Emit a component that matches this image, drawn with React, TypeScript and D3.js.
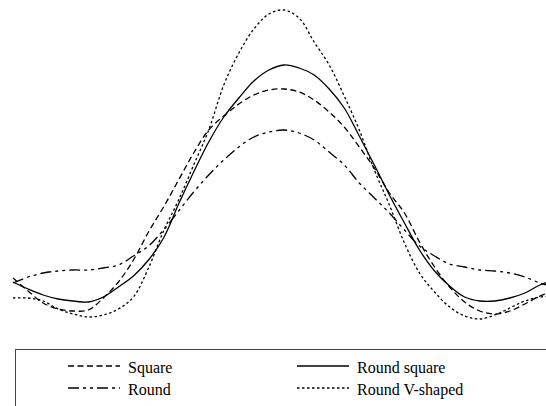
import React from "react";
import * as d3 from "d3";

// azimuth angle (deg) of each sample
const angles = d3.range(-180, 181, 10);

// relative response
const square = [
  52, 39, 27, 21, 19, 20, 32, 48, 70, 98, 123, 150, 177, 200, 214, 226, 235, 240, 241,
  238, 230, 218, 203, 183, 162, 137, 117, 88, 63, 43, 28, 19, 16, 19, 26, 34, 39,
];
const roundSquare = [
  48, 41, 35, 31, 29, 28, 33, 43, 54, 70, 92, 126, 158, 188, 213, 232, 249, 260, 265,
  262, 255, 241, 222, 194, 165, 135, 107, 80, 59, 44, 33, 29, 29, 32, 37, 45, 50,
];
const round = [
  47, 53, 57, 59, 60, 60, 62, 65, 74, 84, 100, 119, 138, 155, 170, 183, 193, 198, 200,
  197, 190, 178, 165, 147, 132, 117, 100, 84, 74, 66, 63, 60, 59, 57, 53, 47, 43,
];
const roundV = [
  32, 32, 29, 21, 16, 13, 15, 21, 33, 62, 99, 130, 165, 200, 245, 277, 301, 316, 320,
  312, 288, 265, 234, 200, 160, 125, 87, 57, 38, 23, 14, 11, 15, 22, 29, 33, 33,
];

const series = [
  { name: "Square", values: square, dash: "6,3.5" },
  { name: "Round square", values: roundSquare, dash: null },
  { name: "Round", values: round, dash: "11,4,3,4,3,4" },
  { name: "Round V-shaped", values: roundV, dash: "2.5,2.5" },
];

const W = 546;
const H = 406;
const serif = '"Liberation Serif", "Times New Roman", "DejaVu Serif", serif';

export default function App() {
  const x = d3.scaleLinear().domain([-180, 180]).range([13, 555]);
  const y = d3.scaleLinear().domain([0, 320]).range([330, 10]);

  const line = d3
    .line<number>()
    .x((d, i) => x(angles[i]))
    .y((d) => y(d))
    .curve(d3.curveCatmullRom.alpha(0.5));

  // legend layout: two columns, two rows
  const colX = [68, 297];
  const rowY = [366, 388];

  return (
    <svg
      width={W}
      height={H}
      style={{ position: "absolute", left: 0, top: 0, background: "#fff" }}
    >
      <g fill="none" stroke="#000" strokeWidth={1.3}>
        {series.map((s) => (
          <path
            key={s.name}
            d={line(s.values) || ""}
            strokeDasharray={s.dash || undefined}
          />
        ))}
      </g>

      <rect x={15.5} y={349.5} width={560} height={80} fill="none" stroke="#444" strokeWidth={1} />
      {series.map((s, k) => {
        const cx = colX[k % 2];
        const cy = rowY[Math.floor(k / 2)];
        return (
          <g key={s.name}>
            <line
              x1={cx}
              x2={cx + 52}
              y1={cy}
              y2={cy}
              stroke="#000"
              strokeWidth={1.3}
              strokeDasharray={s.dash || undefined}
            />
            <text
              x={cx + 60}
              y={cy + 7}
              fill="#000"
              fontFamily={serif}
              fontSize={16}
            >
              {s.name}
            </text>
          </g>
        );
      })}
    </svg>
  );
}
